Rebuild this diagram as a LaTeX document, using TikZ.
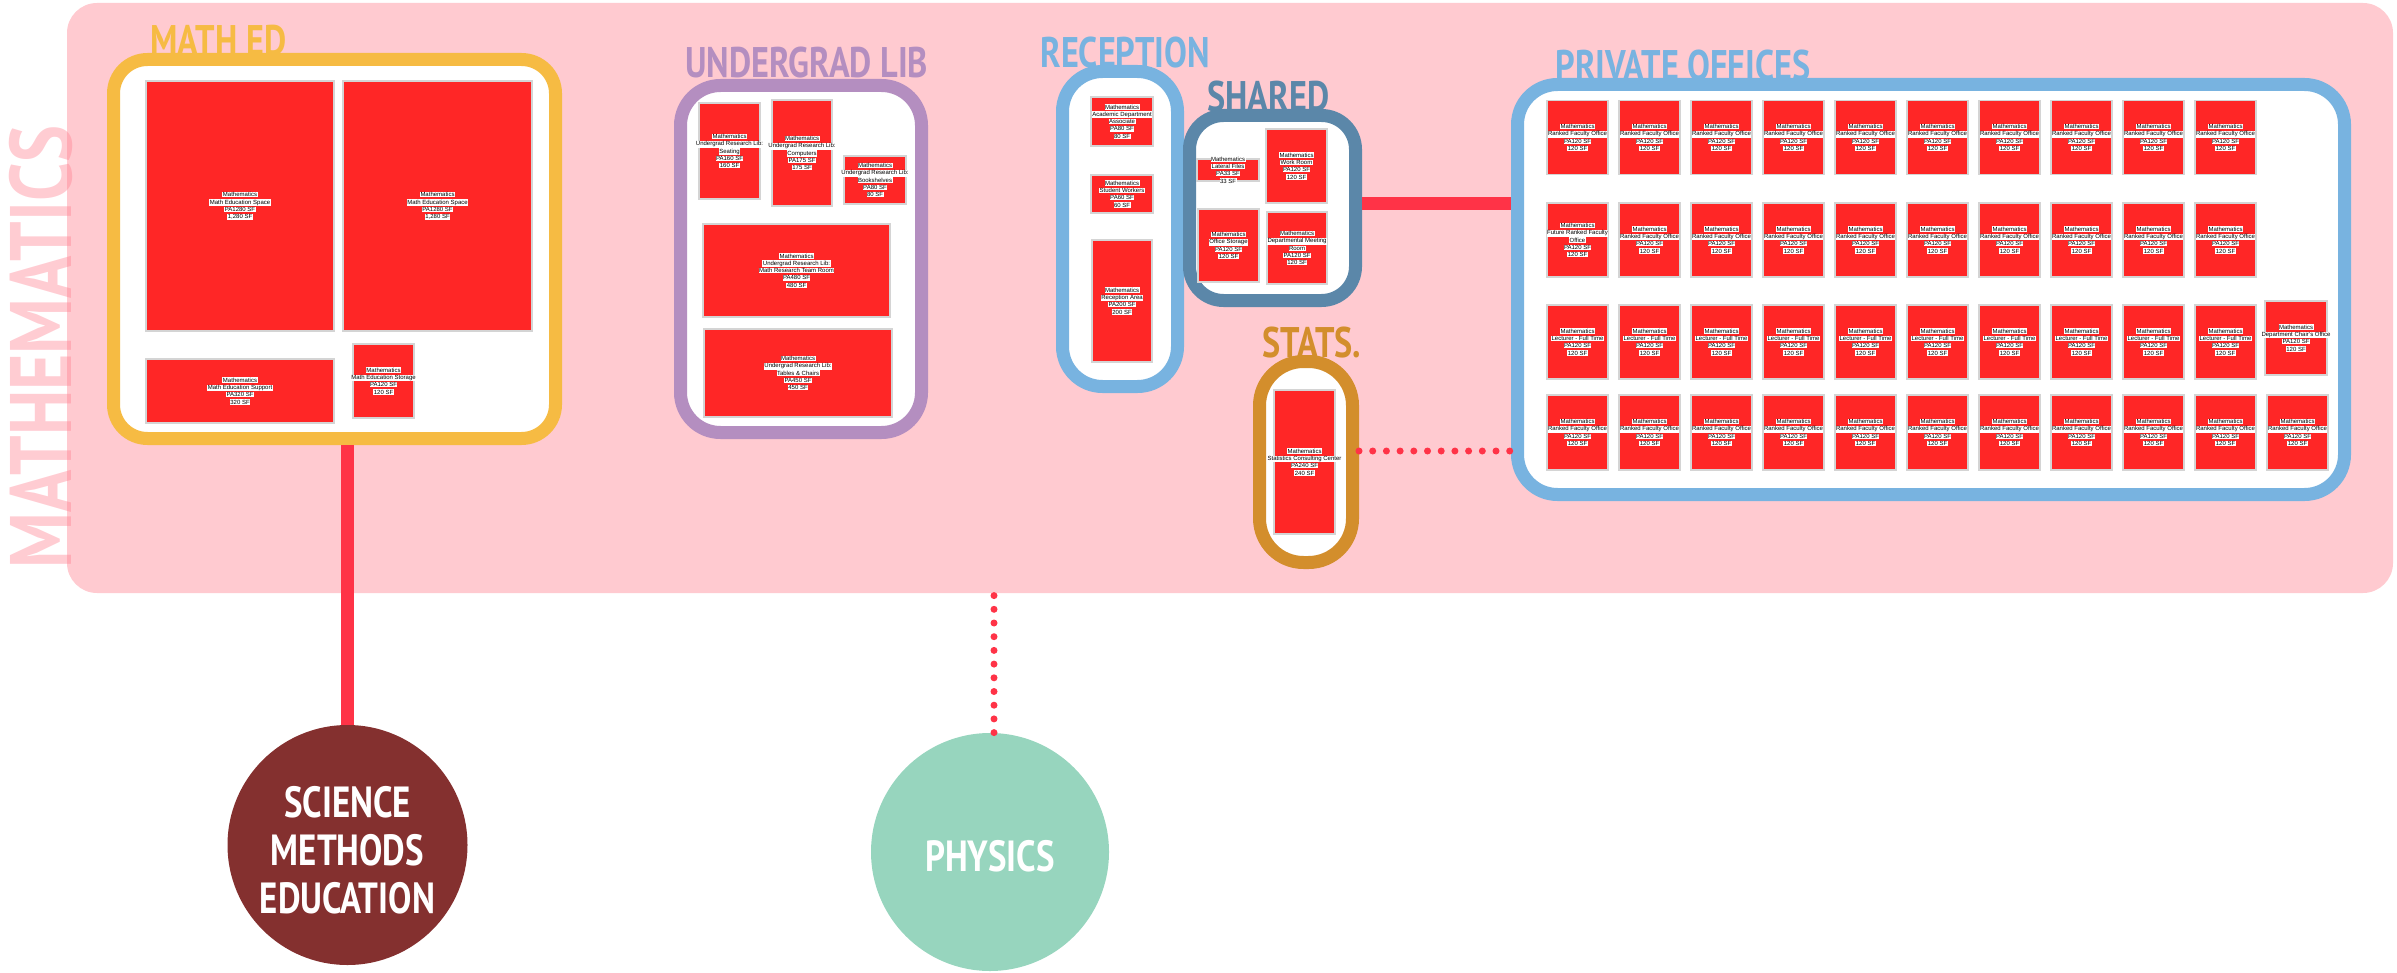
\documentclass[tikz,border=0pt]{standalone}
\usepackage{fontspec}
\setmainfont{Liberation Sans}
\newfontfamily\headfont[FakeStretch=0.8]{PT Sans}
\usetikzlibrary{positioning}

\definecolor{bgpink}{HTML}{FFCAD0}
\definecolor{mathtxt}{HTML}{FF7F8F}
\definecolor{mathedc}{HTML}{F6BB43}
\definecolor{ulibc}{HTML}{B48EC0}
\definecolor{recepc}{HTML}{78B3E0}
\definecolor{sharedc}{HTML}{5B87A9}
\definecolor{statsc}{HTML}{D38E2C}
\definecolor{roomred}{HTML}{FF2626}
\definecolor{roomedge}{HTML}{D4D4D4}
\definecolor{linkred}{HTML}{FF3347}
\definecolor{smec}{HTML}{84302F}
\definecolor{physc}{HTML}{97D5BE}

\setlength{\fboxsep}{0.25pt}
\newcommand{\hl}[1]{\colorbox{white}{#1}}
\newcommand{\ranked}{\hl{Mathematics}\\\hl{Ranked Faculty Office}\\\hl{PA120 SF}\\\hl{120 SF}}
\newcommand{\lecturer}{\hl{Mathematics}\\\hl{Lecturer - Full Time}\\\hl{PA120 SF}\\\hl{120 SF}}

\begin{document}
\begin{tikzpicture}[x=0.5pt, y=-0.5pt,
	grp/.style={rectangle, fill=white, line width=6.5pt, rounded corners=17pt, outer sep=auto},
	room/.style={rectangle, fill=roomred, draw=roomedge, line width=0.8pt, inner sep=0pt},
	rtext/.style={font=\fontsize{3}{3.65}\selectfont, align=center, inner sep=0pt},
	head/.style={font=\headfont\bfseries\fontsize{21.4}{21.4}\selectfont, inner sep=0pt, anchor=base west},
	sz/.style 2 args={minimum width=#1*0.5pt, minimum height=#2*0.5pt},
	link/.style={draw=linkred, line width=6.5pt},
	dotlink/.style={draw=linkred, line width=3.5pt, line cap=round, dash pattern=on 0pt off 6.85pt},
	dept/.style={circle, minimum size=120pt, inner sep=0pt},
	dtext/.style={align=center, text=white, inner sep=0pt,
		font=\headfont\bfseries\fontsize{21.8}{24}\selectfont}]
	\useasboundingbox (0,0) rectangle (2397,973);

	% department background
	\node[rectangle, fill=bgpink, rounded corners=15pt, sz={2326}{590}] (math) at (1230,298) {};
	\node[font=\headfont\bfseries\fontsize{43.6}{43.6}\selectfont, text=mathtxt, text opacity=0.4,
		rotate=90, anchor=base, inner sep=0pt] (mathlbl) at (71,347) {MATHEMATICS};

	% groups
	\node[grp, draw=mathedc, sz={442}{379}] (mathed) at (334.5,249) {};
	\node[grp, draw=ulibc, sz={241}{347}, rounded corners=20pt] (ulib) at (801,259) {};
	\node[grp, draw=recepc, sz={115}{315}, rounded corners=20pt] (recep) at (1120,229) {};
	\node[grp, draw=sharedc, sz={166}{185}] (shared) at (1272.5,208) {};
	\node[grp, draw=statsc, sz={93}{201}, rounded corners=22pt] (stats) at (1306,462) {};
	\node[grp, draw=recepc, sz={827}{410}, rounded corners=20pt] (priv) at (1931,289.5) {};

	\node[head, text=mathedc] (mathedlbl) at (150,56) {MATH ED};
	\node[head, text=ulibc] (uliblbl) at (685,78) {UNDERGRAD LIB};
	\node[head, text=recepc] (receplbl) at (1040,68) {RECEPTION};
	\node[head, text=sharedc] (sharedlbl) at (1207,112) {SHARED};
	\node[head, text=statsc] (statslbl) at (1262,357) {STATS.};
	\node[head, text=recepc] (privlbl) at (1555,81) {PRIVATE OFFICES};

	% math ed rooms
	\node[room, sz={188}{250}, label={[rtext]center:{\hl{Mathematics}\\\hl{Math Education Space}\\\hl{PA1280 SF}\\\hl{1,280 SF}}}] (me1) at (240,206) {};
	\node[room, sz={189}{250}, label={[rtext]center:{\hl{Mathematics}\\\hl{Math Education Space}\\\hl{PA1280 SF}\\\hl{1,280 SF}}}] (me2) at (437.5,206) {};
	\node[room, sz={188}{64}, label={[rtext]center:{\hl{Mathematics}\\\hl{Math Education Support}\\\hl{PA320 SF}\\\hl{320 SF}}}] (me3) at (240,391) {};
	\node[room, sz={61}{74}, label={[rtext]center:{\hl{Mathematics}\\\hl{Math Education Storage}\\\hl{PA120 SF}\\\hl{120 SF}}}] (me4) at (383.5,381) {};

	% undergrad lib rooms
	\node[room, sz={61}{96}, label={[rtext]center:{\hl{Mathematics}\\\hl{Undergrad Research Lib:}\\\hl{Seating}\\\hl{PA160 SF}\\\hl{160 SF}}}] (ul1) at (729.5,151) {};
	\node[room, sz={60}{106}, label={[rtext]center:{\hl{Mathematics}\\\hl{Undergrad Research Lib:}\\\hl{Computers}\\\hl{PA175 SF}\\\hl{175 SF}}}] (ul2) at (802,153) {};
	\node[room, sz={62}{48}, label={[rtext]center:{\hl{Mathematics}\\\hl{Undergrad Research Lib:}\\\hl{Bookshelves}\\\hl{PA80 SF}\\\hl{80 SF}}}] (ul3) at (875,180) {};
	\node[room, sz={187}{93}, label={[rtext]center:{\hl{Mathematics}\\\hl{Undergrad Research Lib:}\\\hl{Math Research Team Room}\\\hl{PA480 SF}\\\hl{480 SF}}}] (ul4) at (796.5,270.5) {};
	\node[room, sz={188}{88}, label={[rtext]center:{\hl{Mathematics}\\\hl{Undergrad Research Lib:}\\\hl{Tables \& Chairs}\\\hl{PA450 SF}\\\hl{450 SF}}}] (ul5) at (798,373) {};

	% reception rooms
	\node[room, sz={62}{49}, label={[rtext]center:{\hl{Mathematics}\\\hl{Academic Department}\\\hl{Associate}\\\hl{PA80 SF}\\\hl{80 SF}}}] (rc1) at (1122,121.5) {};
	\node[room, sz={62}{38}, label={[rtext]center:{\hl{Mathematics}\\\hl{Student Workers}\\\hl{PA60 SF}\\\hl{60 SF}}}] (rc2) at (1122,194) {};
	\node[room, sz={60}{122}, label={[rtext]center:{\hl{Mathematics}\\\hl{Reception Area}\\\hl{PA200 SF}\\\hl{200 SF}}}] (rc3) at (1122,301) {};

	% shared rooms
	\node[room, sz={62}{22}, label={[rtext]center:{\hl{Mathematics}\\\hl{Lateral Files}\\\hl{PA33 SF}\\\hl{33 SF}}}] (sh1) at (1228,170) {};
	\node[room, sz={61}{74}, label={[rtext]center:{\hl{Mathematics}\\\hl{Work Room}\\\hl{PA120 SF}\\\hl{120 SF}}}] (sh2) at (1296.5,166) {};
	\node[room, sz={61}{73}, label={[rtext]center:{\hl{Mathematics}\\\hl{Office Storage}\\\hl{PA120 SF}\\\hl{120 SF}}}] (sh3) at (1228.5,245.5) {};
	\node[room, sz={60}{72}, label={[rtext]center:{\hl{Mathematics}\\\hl{Departmental Meeting}\\\hl{Room}\\\hl{PA120 SF}\\\hl{120 SF}}}] (sh4) at (1297,248) {};

	% stats room
	\node[room, sz={61}{144}, label={[rtext]center:{\hl{Mathematics}\\\hl{Statistics Consulting Center}\\\hl{PA240 SF}\\\hl{240 SF}}}] (st1) at (1304.5,462) {};

	% private offices
	\foreach \i in {0,...,9}
		\node[room, sz={61}{74}, label={[rtext]center:{\ranked}}] (po1-\i) at ({1577.5+72*\i},137.5) {};
	\node[room, sz={61}{74}, label={[rtext]center:{\hl{Mathematics}\\\hl{Future Ranked Faculty}\\\hl{Office}\\\hl{PA120 SF}\\\hl{120 SF}}}] (po2-0) at (1577.5,240) {};
	\foreach \i in {1,...,9}
		\node[room, sz={61}{74}, label={[rtext]center:{\ranked}}] (po2-\i) at ({1577.5+72*\i},240) {};
	\foreach \i in {0,...,9}
		\node[room, sz={61}{74}, label={[rtext]center:{\lecturer}}] (po3-\i) at ({1577.5+72*\i},342) {};
	\node[room, sz={62}{74}, label={[rtext]center:{\hl{Mathematics}\\\hl{Department Chair's Office}\\\hl{PA120 SF}\\\hl{120 SF}}}] (po3-10) at (2296,338) {};
	\foreach \i in {0,...,10}
		\node[room, sz={61}{75}, label={[rtext]center:{\ranked}}] (po4-\i) at ({1577.5+72*\i},432.5) {};

	% neighbouring departments
	\node[dept, fill=smec, label={[dtext, yshift=-2.5pt]center:{SCIENCE\\METHODS\\EDUCATION}}] (sme) at (347.5,845) {};
	\node[dept, fill=physc, minimum size=119pt, label={[dtext, yshift=-2pt]center:{PHYSICS}}] (phys) at (990,852) {};

	% links
	\draw[link] (sme.north) -- (sme.north |- mathed.south);
	\draw[link] ([yshift=2pt]shared.east) -- ([yshift=2pt]shared.east -| priv.west);
	\draw[dotlink] ([yshift=5.5pt]stats.east) -- ([yshift=5.5pt]stats.east -| priv.west);
	\draw[dotlink] ([xshift=2pt]phys.north) -- ([xshift=2pt]phys.north |- math.south);
\end{tikzpicture}
\end{document}
